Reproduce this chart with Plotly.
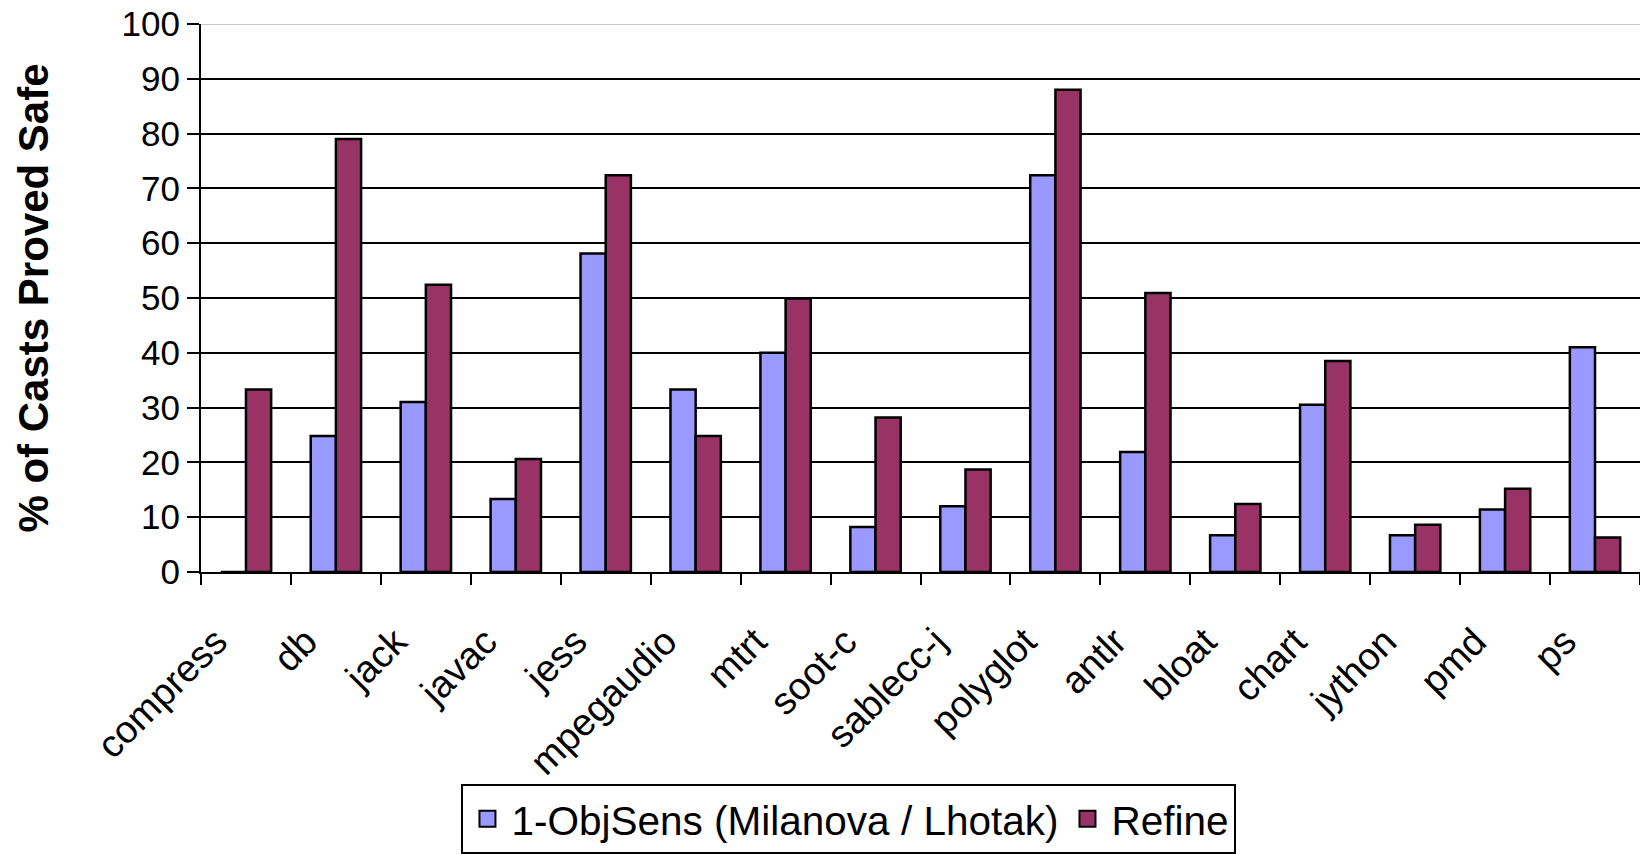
import plotly.graph_objects as go

categories = ["compress", "db", "jack", "javac", "jess", "mpegaudio", "mtrt", "soot-c",
              "sablecc-j", "polyglot", "antlr", "bloat", "chart", "jython", "pmd", "ps"]
objsens = [0, 24.8, 31, 13.3, 58.1, 33.3, 40, 8.2, 12, 72.4, 21.9, 6.7, 30.5, 6.7, 11.4, 41]
refine = [33.3, 79, 52.4, 20.6, 72.4, 24.8, 49.9, 28.2, 18.7, 88, 50.9, 12.4, 38.5, 8.6, 15.2, 6.3]
y_ticks = list(range(0, 101, 10))
series_names = ["1-ObjSens (Milanova / Lhotak)", "Refine"]
series_colors = ["#9999FF", "#993366"]

FONT = "Arial, Liberation Sans, sans-serif"

fig = go.Figure()
for vals, name, col in zip([objsens, refine], series_names, series_colors):
    fig.add_trace(go.Bar(x=categories, y=vals, name=name, showlegend=False,
                         marker=dict(color=col, line=dict(color="black", width=2.5))))
# legend entries with larger square swatches
for name, col in zip(series_names, series_colors):
    fig.add_trace(go.Scatter(x=[None], y=[None], mode="markers", name=name,
                             marker=dict(symbol="square", size=16, color=col,
                                         line=dict(color="black", width=2))))

fig.update_layout(
    width=1640, height=854,
    margin=dict(l=201, r=0, t=24, b=281),
    paper_bgcolor="white", plot_bgcolor="white",
    barmode="group", bargap=0.44, bargroupgap=0,
    font=dict(family=FONT, color="black", size=34),
    showlegend=True,
    legend=dict(orientation="h", x=0.181, xanchor="left", y=-0.388, yanchor="top",
                bordercolor="black", borderwidth=2, font=dict(size=40.5),
                itemsizing="trace", traceorder="normal", itemwidth=38),
    xaxis=dict(range=[-0.5, 15.5], tickangle=-45, showline=True, linecolor="black",
               linewidth=2, ticks="outside", tickson="boundaries", ticklen=11,
               tickwidth=2, tickcolor="black", showgrid=False, tickfont=dict(size=38),
               ticklabelstandoff=30, ticklabelshift=-30, automargin=False),
    yaxis=dict(range=[0, 100], tickvals=y_ticks, showline=True, linecolor="black",
               linewidth=2, ticks="outside", ticklen=12, tickwidth=2, tickcolor="black",
               showgrid=True, gridcolor="black", gridwidth=2, zeroline=False,
               tickfont=dict(size=35),
               title=dict(text="<b>% of Casts Proved Safe</b>", font=dict(size=42), standoff=60)),
)
fig.add_shape(type="line", xref="paper", yref="y", x0=0, x1=1, y0=100, y1=100,
              line=dict(color="#c8c8c8", width=2), layer="above")

fig.write_html("out.html")
